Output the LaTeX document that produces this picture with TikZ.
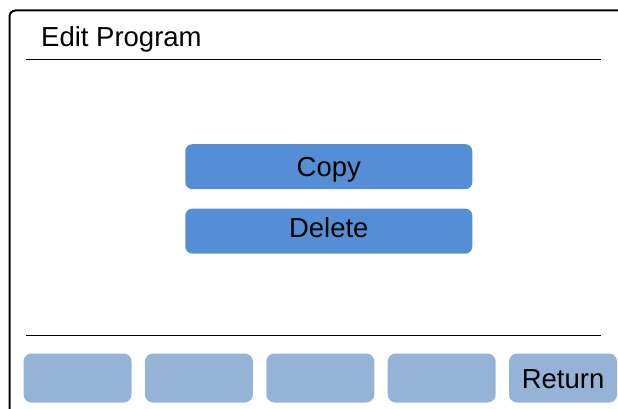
\documentclass[tikz,border=0pt]{standalone}
\usepackage{fontspec}
\setmainfont{Liberation Sans}
\usetikzlibrary{positioning}

\definecolor{menublue}{RGB}{85,142,213}
\definecolor{keyblue}{RGB}{149,179,215}

\begin{document}
\begin{tikzpicture}[x=1pt, y=-1pt, font=\fontsize{27.5}{33}\selectfont, node distance=19pt and 13pt]
			\tikzstyle{menu btn}=[fill=menublue, rounded corners=7pt, minimum width=287pt, minimum height=45pt, inner sep=0pt, text height=19.5pt, text depth=0pt]
			\tikzstyle{soft key}=[fill=keyblue, rounded corners=8pt, minimum width=108pt, minimum height=49pt, inner sep=0pt, text height=20pt, text depth=0pt]
			\useasboundingbox (0,0) rectangle (618,409);
			% screen frame
			\draw[line width=2pt, rounded corners=6pt] (618,10.5) -- (9.5,10.5) -- (9.5,409);
			\node[anchor=base west, inner sep=0pt] (title) at (41,46.5) {Edit Program};
			\draw[line width=1.3pt] (26,59.2) -- (600.7,59.2);
			\draw[line width=1.3pt] (26,335.7) -- (600.7,335.7);
			% menu
			\node[menu btn] (copy)   at (328.8,166.7) {Copy};
			\node[menu btn, text depth=7pt] (delete) [below=of copy] {Delete};
			% soft keys
			\node[soft key] (k1) at (77.5,378) {};
			\node[soft key] (k2) [right=of k1] {};
			\node[soft key] (k3) [right=of k2] {};
			\node[soft key] (k4) [right=of k3] {};
			\node[soft key] (ret) [right=of k4] {Return};
		\end{tikzpicture}
\end{document}
